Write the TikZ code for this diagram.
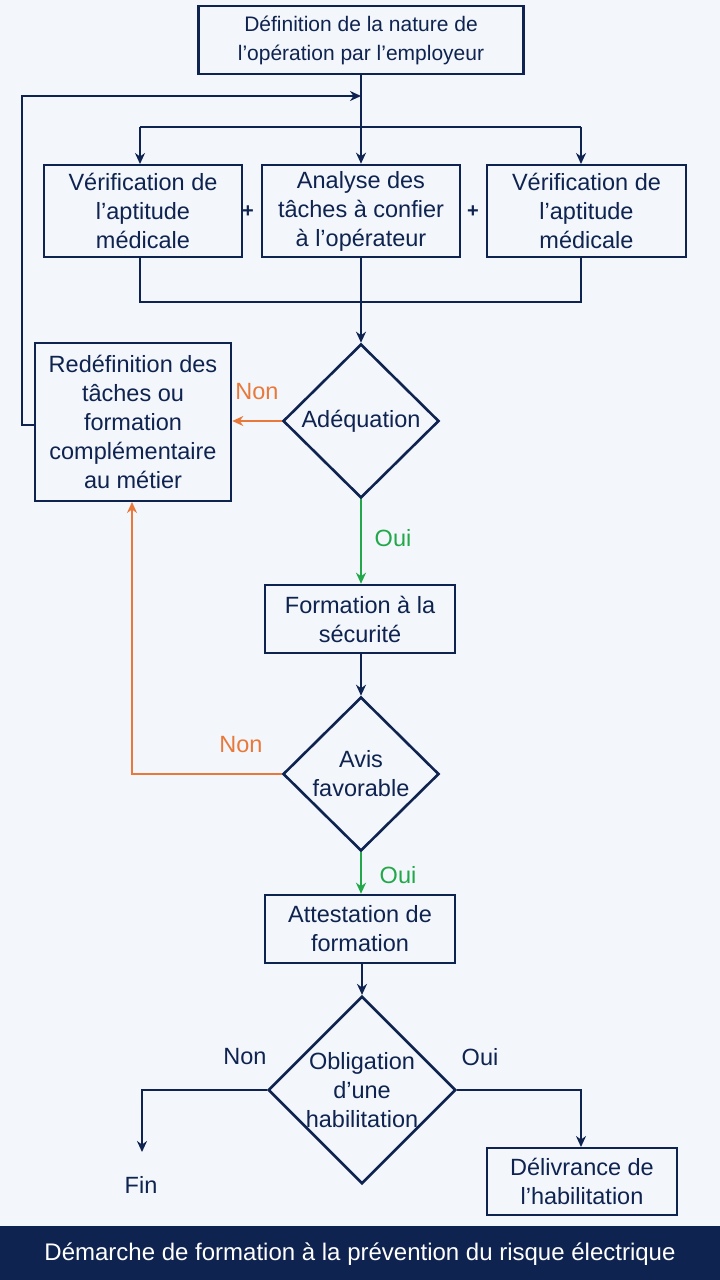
\documentclass[tikz,border=0pt]{standalone}
\usepackage{fontspec}
\setmainfont{Liberation Sans}
\usetikzlibrary{shapes.geometric,arrows.meta}
\definecolor{navy}{HTML}{0E2350}
\definecolor{org}{HTML}{E8793A}
\definecolor{grn}{HTML}{22A84A}
\definecolor{bg}{HTML}{F3F6FA}
\begin{document}
\begin{tikzpicture}[x=1pt,y=-1pt,
  box/.style={draw=navy,line width=2.6pt,fill=bg,text=navy,align=center,inner sep=0pt,font=\fontsize{23.5}{29}\selectfont},
  dia/.style={diamond,draw=navy,line width=2.6pt,fill=bg,text=navy,align=center,inner sep=0pt,font=\fontsize{23.5}{29}\selectfont},
  ln/.style={draw=navy,line width=2.6pt},
  arr/.style={ln,-{Stealth[length=11pt,width=10pt]}},
  oarr/.style={draw=org,line width=2.6pt,-{Stealth[length=11pt,width=10pt]}},
  garr/.style={draw=grn,line width=2.6pt,-{Stealth[length=11pt,width=10pt]}},
  lab/.style={font=\fontsize{23.5}{26}\selectfont}]
\fill[bg] (0,0) rectangle (720,1280);
\useasboundingbox (0,0) rectangle (720,1280);
\fill[navy] (0,1226) rectangle (720,1280);
\node[white,font=\fontsize{24}{28}\selectfont] (title) at (360,1254) {Démarche de formation à la prévention du risque électrique};

\node[box,minimum width=325pt,minimum height=68pt,font=\fontsize{21}{29}\selectfont] (def) at (361,40) {Définition de la nature de\\l’opération par l’employeur};
\node[box,minimum width=198pt,minimum height=92pt] (v1) at (143,211) {Vérification de\\l’aptitude\\médicale};
\node[box,minimum width=198pt,minimum height=92pt] (an) at (361,211) {Analyse des\\tâches à confier\\à l’opérateur};
\node[box,minimum width=199pt,minimum height=92pt] (v2) at (586.5,211) {Vérification de\\l’aptitude\\médicale};
\node[navy,font=\bfseries\fontsize{20}{22}\selectfont] (p1) at (248,212) {+};
\node[navy,font=\bfseries\fontsize{20}{22}\selectfont] (p2) at (473,212) {+};
\node[dia,minimum width=156pt,minimum height=154pt] (ad) at (361,421) {Adéquation};
\node[box,minimum width=196pt,minimum height=158pt] (red) at (133,422) {Redéfinition des\\tâches ou\\formation\\complémentaire\\au métier};
\node[box,minimum width=190pt,minimum height=68pt] (fs) at (360,619) {Formation à la\\sécurité};
\node[dia,minimum width=156pt,minimum height=154pt] (av) at (361,774) {Avis\\favorable};
\node[box,minimum width=190pt,minimum height=68pt] (att) at (360,929) {Attestation de\\formation};
\node[dia,minimum width=184pt,minimum height=180pt] (ob) at (362,1090) {Obligation\\d’une\\habilitation};
\node[box,minimum width=190pt,minimum height=67pt] (del) at (582,1181.5) {Délivrance de\\l’habilitation};
\node[text=navy,lab] (fin) at (141,1185) {Fin};
\coordinate (finp) at (142,1152);
\coordinate (lp) at (35,425);

% top distribution
\draw[ln] (def.south) -- (361,127);
\draw[ln] (140,127) -- (581,127);
\draw[arr] (140,127) -- (140,164);
\draw[arr] (581,127) -- (581,164);
\draw[arr] (361,127) -- (an.north);
% join
\draw[ln] (140,257) -- (140,302) -- (581,302) -- (581,257);
\draw[arr] (an.south) -- (ad.north);
% loop back
\draw[arr] (lp) -- (22,425) -- (22,96) -- (361,96);
% Adequation
\draw[oarr] (ad.west) -- (red.east |- ad.west);
\node[text=org,lab] (n1) at (257,392) {Non};
\draw[garr] (ad.south) -- (fs.north -| ad.south);
\node[text=grn,lab] (o1) at (393,538) {Oui};
\draw[arr] (fs.south -| av.north) -- (av.north);
% Avis
\draw[oarr] (av.west) -- (132,774) -- (132,502);
\node[text=org,lab] (n2) at (241,745) {Non};
\draw[garr] (av.south) -- (att.north -| av.south);
\node[text=grn,lab] (o2) at (398,875) {Oui};
\draw[arr] (att.south -| ob.north) -- (ob.north);
% Obligation
\draw[arr] (ob.west) -- (142,1090) -- (finp);
\node[text=navy,lab] (n3) at (245,1057) {Non};
\draw[arr] (ob.east) -- (581,1090) -- (581,1147);
\node[text=navy,lab] (o3) at (480,1057) {Oui};
\end{tikzpicture}
\end{document}
